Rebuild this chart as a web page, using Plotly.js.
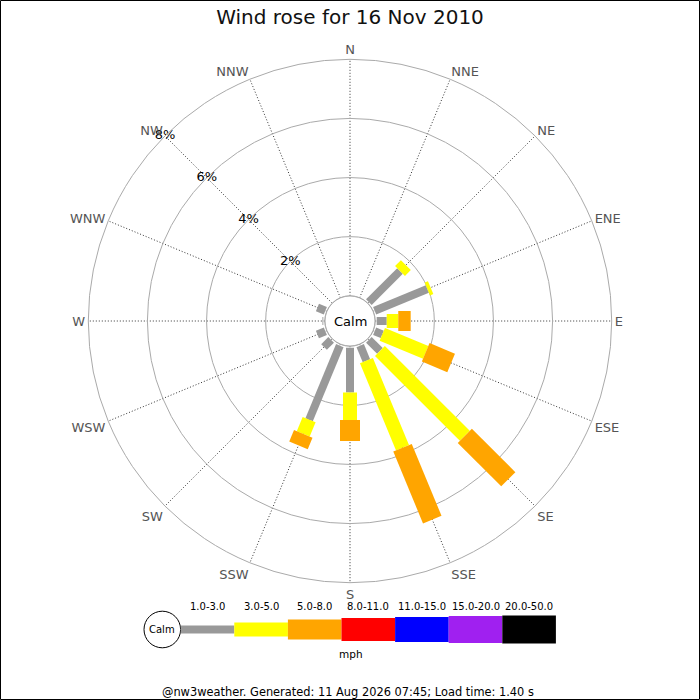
<!DOCTYPE html>
<html>
<head>
<meta charset="utf-8">
<script src="https://cdn.plot.ly/plotly-3.0.1.min.js"></script>
<style>
  html, body { margin: 0; padding: 0; background: #ffffff; }
  #rose { width: 700px; height: 700px; }
</style>
</head>
<body>
<div id="rose"></div>
<script>
// -------------------------------------------------------------------------
// Data — % of the day per compass direction, one array per speed range
// -------------------------------------------------------------------------
const DIRECTIONS = ["N", "NNE", "NE", "ENE", "E", "ESE", "SE", "SSE",
                    "S", "SSW", "SW", "WSW", "W", "WNW", "NW", "NNW"];
const SPEED_RANGES = ["1.0-3.0", "3.0-5.0", "5.0-8.0", "8.0-11.0",
                      "11.0-15.0", "15.0-20.0", "20.0-50.0"];

const PCT_1_3 = [0, 0, 1.49, 1.93, 0.34, 0.28, 0.53, 0.55, 1.52, 2.71, 0.34, 0.29, 0.03, 0.29, 0, 0];
const PCT_3_5 = [0, 0, 0.28, 0.12, 0.39, 1.59, 4.06, 3.19, 0.93, 0.52, 0, 0, 0, 0, 0, 0];
const PCT_5_8 = [0, 0, 0, 0, 0.42, 0.93, 2.08, 2.63, 0.71, 0.42, 0, 0, 0, 0, 0, 0];

const RADIAL_TICKS = [2, 4, 6, 8];
const RADIAL_TICK_TEXT = ["2%", "4%", "6%", "8%"];

const TITLE = "Wind rose for 16 Nov 2010";
const FOOTER = "@nw3weather. Generated: 11 Aug 2026 07:45; Load time: 1.40 s";

// -------------------------------------------------------------------------
// Styles
// -------------------------------------------------------------------------
const RANGE_COLORS = ["#999999", "#ffff00", "#ffa500", "#ff0000",
                      "#0000ff", "#a020f0", "#000000"];
const RANGE_WIDTHS = [8, 14, 20, 23, 25, 27, 28];   // px, leg thickness
const LEG_GAP = 0.05;                               // legs start just off the calm circle
const FONT = "DejaVu Sans, sans-serif";

// page geometry (px), converted to paper coords below
const W = 700, H = 700;
const CX = 350, CY = 321, R_OUT = 261.7, R_CALM = 25.2;
const px = (x) => x / W;
const py = (y) => 1 - y / H;

// paper-anchored text, centred on the given pixel
function label(x, y, text, size) {
  return {
    xref: "paper", yref: "paper", x: px(x), y: py(y),
    xanchor: "center", yanchor: "middle",
    text: text, showarrow: false,
    font: { family: FONT, size: size, color: "#000000" },
  };
}

// -------------------------------------------------------------------------
// Legs — each speed range is one trace of thick radial segments
// -------------------------------------------------------------------------
function legTraces() {
  const series = [PCT_1_3, PCT_3_5, PCT_5_8];
  const base = DIRECTIONS.map(() => LEG_GAP);
  return series.map((vals, k) => {
    const r = [], theta = [];
    vals.forEach((v, i) => {
      if (v > 0) {
        r.push(base[i], base[i] + v, null);
        theta.push(DIRECTIONS[i], DIRECTIONS[i], null);
      }
      base[i] += v;
    });
    return {
      type: "scatterpolar",
      mode: "lines",
      r: r,
      theta: theta,
      connectgaps: false,
      line: { color: RANGE_COLORS[k], width: RANGE_WIDTHS[k] },
      hoverinfo: "skip",
      showlegend: false,
    };
  });
}

function radialLabelTrace() {
  return {
    type: "scatterpolar",
    mode: "text",
    r: RADIAL_TICKS,
    theta: RADIAL_TICKS.map(() => "NW"),
    text: RADIAL_TICK_TEXT,
    textposition: "middle center",
    textfont: { family: FONT, size: 13, color: "#000000" },
    cliponaxis: false,
    hoverinfo: "skip",
    showlegend: false,
  };
}

// -------------------------------------------------------------------------
// Speed key along the bottom
// -------------------------------------------------------------------------
const KEY_CX = 162.3, KEY_CY = 629.5, KEY_R = 18.3;
const KEY_X0 = 180.7, KEY_STEP = 53.6;

function keyShapes() {
  const shapes = [{
    type: "circle", xref: "paper", yref: "paper",
    x0: px(KEY_CX - KEY_R), x1: px(KEY_CX + KEY_R),
    y0: py(KEY_CY + KEY_R), y1: py(KEY_CY - KEY_R),
    line: { color: "#000000", width: 1 }, fillcolor: "#ffffff",
  }];
  SPEED_RANGES.forEach((_, k) => {
    const h = RANGE_WIDTHS[k];
    shapes.push({
      type: "rect", xref: "paper", yref: "paper",
      x0: px(KEY_X0 + k * KEY_STEP), x1: px(KEY_X0 + (k + 1) * KEY_STEP),
      y0: py(KEY_CY + h / 2), y1: py(KEY_CY - h / 2),
      line: { width: 0 }, fillcolor: RANGE_COLORS[k],
    });
  });
  return shapes;
}

function keyAnnotations() {
  const notes = SPEED_RANGES.map((text, k) =>
    label(KEY_X0 + (k + 0.5) * KEY_STEP, 606.7, text, 10));
  notes.push(label(KEY_CX, KEY_CY, "Calm", 10));
  notes.push(label(350.7, 654, "mph", 10.5));
  return notes;
}

// -------------------------------------------------------------------------
// Layout
// -------------------------------------------------------------------------
const layout = {
  width: W,
  height: H,
  margin: { t: 0, r: 0, b: 0, l: 0 },
  paper_bgcolor: "#ffffff",
  font: { family: FONT, color: "#000000" },
  title: {
    text: TITLE,
    x: 0.5, xanchor: "center",
    y: py(17), yanchor: "middle",
    font: { family: FONT, size: 20, color: "#111111" },
  },
  polar: {
    domain: {
      x: [px(CX - R_OUT), px(CX + R_OUT)],
      y: [py(CY + R_OUT), py(CY - R_OUT)],
    },
    hole: R_CALM / R_OUT,
    bgcolor: "rgba(0,0,0,0)",
    radialaxis: {
      range: [0, 8],
      tickvals: RADIAL_TICKS,
      showticklabels: false,
      ticks: "",
      showline: false,
      gridcolor: "#aaaaaa",
      gridwidth: 1,
      angle: 135,
    },
    angularaxis: {
      type: "category",
      categoryarray: DIRECTIONS,
      rotation: 90,
      direction: "clockwise",
      showline: true,
      linecolor: "#aaaaaa",
      linewidth: 1,
      gridcolor: "#333333",
      griddash: "1px,2px",
      gridwidth: 1,
      ticks: "",
      tickfont: { family: FONT, size: 13, color: "#555555" },
    },
  },
  shapes: [
    {
      type: "circle", xref: "paper", yref: "paper", layer: "above",
      x0: px(CX - 25), x1: px(CX + 25), y0: py(CY + 25), y1: py(CY - 25),
      line: { color: "#aaaaaa", width: 1 }, fillcolor: "#ffffff",
    },
    ...keyShapes(),
    {
      type: "rect", xref: "paper", yref: "paper",
      x0: px(0.5), x1: px(699.5), y0: py(699.5), y1: py(0.5),
      line: { color: "#000000", width: 1 },
    },
  ],
  annotations: [
    label(CX, CY, "Calm", 13),
    ...keyAnnotations(),
    label(348, 692, FOOTER, 11.4),
  ],
};

Plotly.newPlot("rose", [...legTraces(), radialLabelTrace()], layout,
  { displayModeBar: false, staticPlot: true });
</script>
</body>
</html>
